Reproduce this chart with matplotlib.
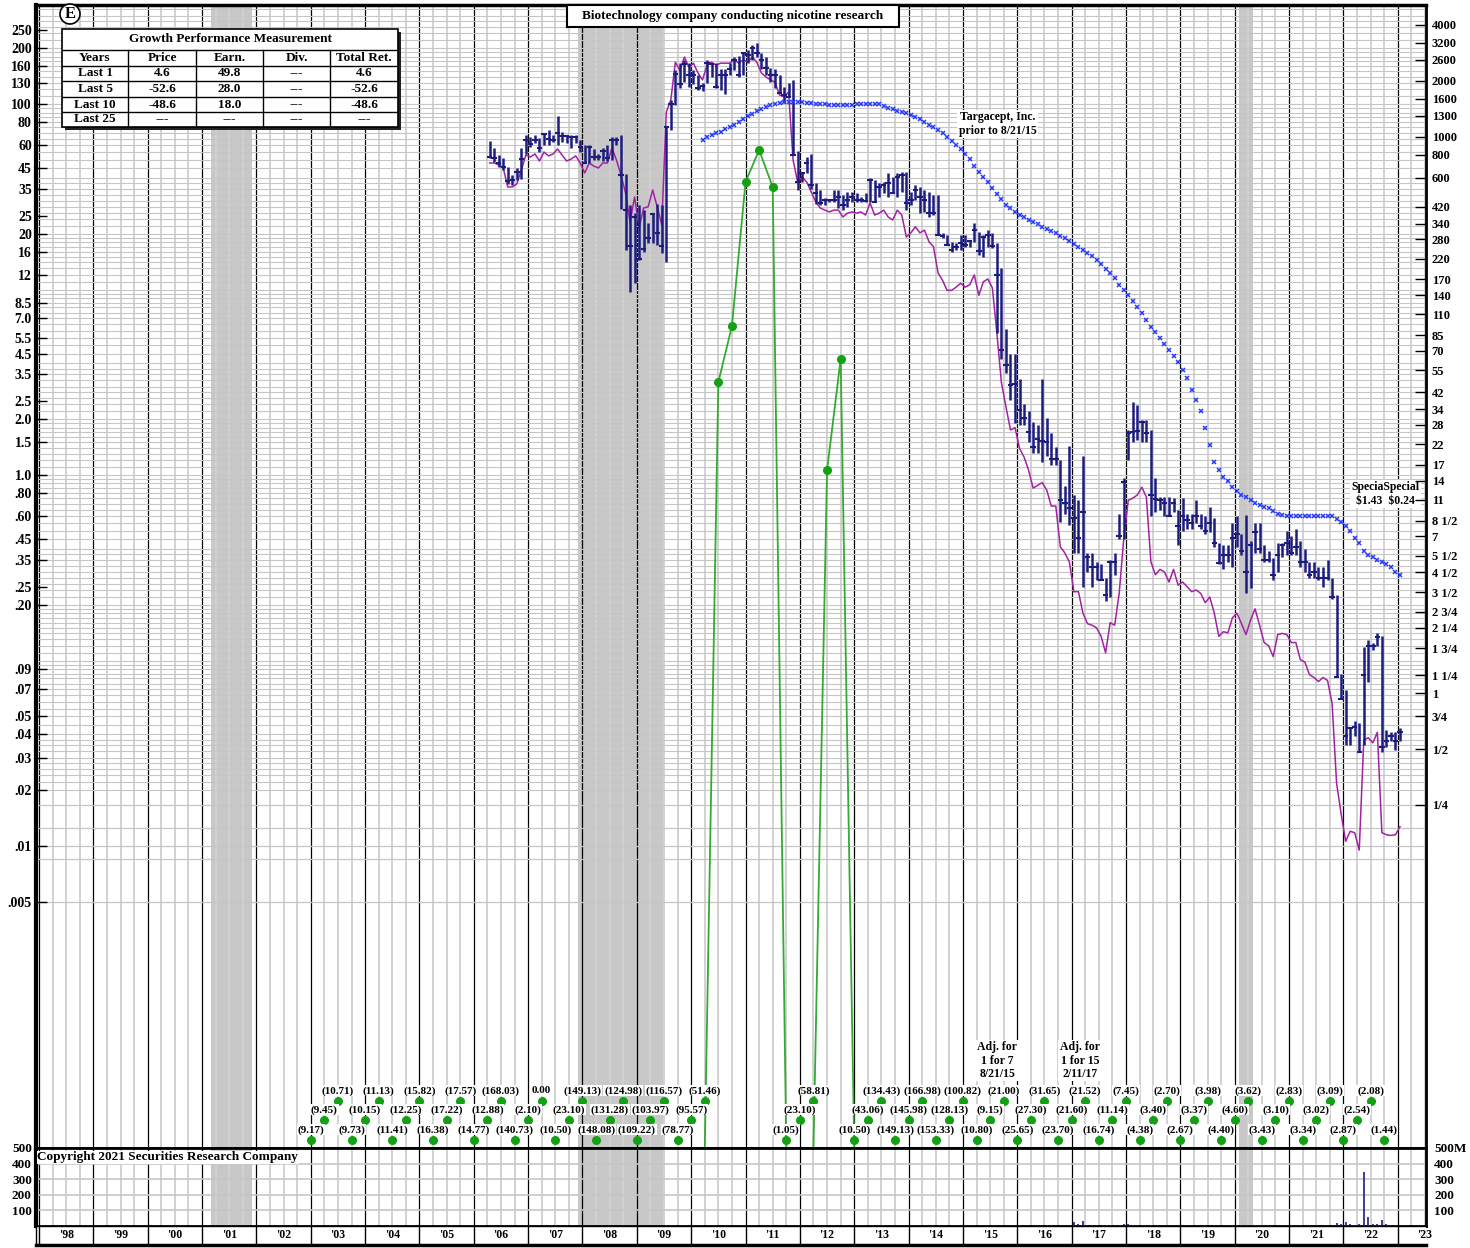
import numpy as np
import matplotlib
matplotlib.use("Agg")
import matplotlib.pyplot as plt
from matplotlib.patches import Rectangle
from matplotlib.ticker import NullLocator
from matplotlib.transforms import blended_transform_factory

plt.rcParams["font.family"] = ["Liberation Serif", "DejaVu Serif"]
plt.rcParams["font.weight"] = "bold"

# ---- monthly price bars, Apr 2006 .. Jan 2023 (read on the left-hand scale) ----
bar_start = 2006 + 3 / 12
price_high = [
    63, 58, 53, 51, 45.5, 41.5, 45, 58, 68,                                   # 2006
    66.5, 68, 65.5, 70, 72, 68, 86, 71, 68, 68, 68, 64,                        # 2007
    60, 60, 57, 54, 58, 60, 66, 66, 68, 42, 28.5, 26,                          # 2008
    28.5, 26.8, 22.8, 26, 29, 28.5, 75, 105, 152, 166, 173, 166,               # 2009
    152, 144, 130, 173, 167, 166, 155, 155, 167, 179, 182, 191,                # 2010
    195, 208, 213, 188, 179, 157, 155, 144, 123, 130, 135, 56,                 # 2011
    43, 52, 54, 37.5, 34.4, 31, 30.7, 34.4, 34.4, 32.3, 33.5, 33.5,            # 2012
    33, 31.4, 33, 40, 39, 37.5, 38, 42.5, 40.5, 42.5, 43, 43,                  # 2013
    33.5, 36.6, 35.5, 34.4, 33.5, 32.3, 32.3, 20.2, 19.7, 18, 17.8, 19.7,      # 2014
    19.7, 18.5, 22.8, 20.4, 19.7, 20.9, 20.2, 17.8, 13.1, 6.1, 4.5, 4.5,       # 2015
    3.3, 2.4, 2.2, 1.94, 1.87, 3.3, 2.03, 1.68, 1.42, 1.21, 0.87, 1.43,        # 2016
    0.78, 0.73, 1.27, 0.38, 0.38, 0.34, 0.33, 0.28, 0.35, 0.38, 0.62, 0.96,    # 2017
    1.75, 2.48, 2.39, 1.98, 1.98, 1.75, 0.96, 0.76, 0.76, 0.76, 0.75, 0.65,    # 2018
    0.75, 0.62, 0.62, 0.73, 0.62, 0.6, 0.67, 0.59, 0.43, 0.42, 0.42, 0.55,     # 2019
    0.6, 0.48, 0.61, 0.44, 0.55, 0.55, 0.42, 0.39, 0.355, 0.43, 0.43, 0.5,     # 2020
    0.47, 0.51, 0.44, 0.40, 0.34, 0.34, 0.32, 0.32, 0.35, 0.28, 0.225, 0.085,  # 2021
    0.069, 0.044, 0.047, 0.046, 0.118, 0.129, 0.125, 0.14, 0.136, 0.042, 0.041, 0.041,  # 2022
    0.043,                                                                     # 2023
]
price_low = [
    51, 48.5, 46, 44, 37, 36.5, 39, 39.5, 54,
    59, 61.5, 55, 60, 60, 62.5, 60, 62.5, 61.5, 58, 61.5, 55,
    48, 48, 50, 50, 49, 49.5, 50, 60, 27, 16.3, 9.7, 10.8,
    14.4, 15.9, 17.8, 17.8, 17.4, 15.7, 14, 72, 99, 122, 131, 124,
    128, 119, 117, 130, 140, 122, 119, 113, 144, 152, 140, 144,
    166, 173, 179, 155, 144, 131, 122, 115, 101, 109, 53, 34.5,
    38, 42.5, 35, 29, 28.5, 28.5, 29.5, 29.5, 27.5, 26.8, 28, 29.5,
    29.5, 29.8, 29.6, 29.5, 29.5, 31.4, 33, 31.4, 33, 31.4, 33.5, 26.8,
    28.5, 30.4, 25.8, 26.3, 24.6, 25.2, 19.7, 19, 17.4, 15.9, 16.3, 16.3,
    17, 17, 18, 15.3, 14.9, 17, 16.7, 5.8, 4.2, 3.55, 2.54, 1.9,
    1.87, 1.87, 1.5, 1.32, 1.32, 1.17, 1.26, 1.13, 1.13, 0.56, 0.62, 0.54,
    0.38, 0.38, 0.25, 0.30, 0.25, 0.27, 0.27, 0.21, 0.22, 0.29, 0.45, 0.45,
    1.21, 1.5, 1.54, 1.5, 1.5, 0.60, 0.63, 0.65, 0.6, 0.6, 0.63, 0.42,
    0.5, 0.51, 0.51, 0.55, 0.51, 0.48, 0.49, 0.41, 0.33, 0.31, 0.34, 0.32,
    0.41, 0.37, 0.23, 0.245, 0.38, 0.38, 0.34, 0.34, 0.27, 0.30, 0.36, 0.37,
    0.37, 0.37, 0.32, 0.30, 0.28, 0.28, 0.27, 0.25, 0.27, 0.215, 0.081, 0.062,
    0.035, 0.035, 0.039, 0.032, 0.035, 0.077, 0.114, 0.12, 0.032, 0.034, 0.037, 0.033,
    0.037,
]
price_close = [
    52, 51, 48, 46, 38.5, 39, 43, 50.5, 64,
    61, 64, 58, 69, 65, 64, 70, 67, 67, 66, 66, 59,
    48, 59, 51.5, 51.5, 55.5, 51, 64, 64, 41.5, 26.8, 17.2, 24.6,
    14.6, 16.5, 18.9, 25.5, 20.2, 17.2, 75, 100, 145, 128, 165, 144,
    144, 122, 125, 166, 165, 123, 144, 144, 155, 173, 144, 188,
    184, 200, 188, 173, 157, 144, 144, 115, 112, 109, 53, 38,
    42.5, 48, 36.6, 33, 29.2, 30.4, 30.4, 30.4, 31.4, 28.5, 30.4, 31.4,
    30.4, 30.4, 29.9, 39, 29.5, 35.5, 36.6, 37.5, 33, 40.5, 41.4, 29.2,
    30.4, 34.4, 31.4, 30.4, 26, 26, 19.7, 19.4, 17.4, 16.3, 17, 17.8,
    17.4, 18.2, 20.9, 16.1, 19.2, 19.7, 17.1, 12, 4.7, 3.9, 3.06, 3.1,
    2.24, 2.03, 1.7, 1.42, 1.56, 1.52, 1.5, 1.22, 1.22, 0.73, 0.71, 0.66,
    0.59, 0.46, 0.63, 0.36, 0.32, 0.32, 0.27, 0.225, 0.34, 0.34, 0.47, 0.92,
    1.68, 1.7, 1.72, 1.92, 1.68, 0.78, 0.74, 0.73, 0.71, 0.6, 0.71, 0.53,
    0.6, 0.57, 0.55, 0.6, 0.53, 0.5, 0.55, 0.43, 0.335, 0.37, 0.37, 0.46,
    0.48, 0.39, 0.30, 0.42, 0.49, 0.40, 0.35, 0.35, 0.29, 0.37, 0.42, 0.43,
    0.38, 0.41, 0.34, 0.34, 0.29, 0.30, 0.28, 0.28, 0.28, 0.22, 0.081, 0.062,
    0.039, 0.043, 0.044, 0.032, 0.084, 0.12, 0.12, 0.134, 0.034, 0.037, 0.039, 0.037,
    0.041,
]
rel_strength = [
    48.1, 48.1, 46.9, 45.2, 35.7, 35.7, 37.1, 44.1, 53.1,
    51.8, 53.8, 49.3, 55.1, 52.5, 53.8, 57.2, 53.1, 49.3, 50.5, 52.5, 48.1,
    42.5, 48.1, 46.3, 45.2, 48.1, 48.1, 58, 49.9, 41.4, 33.2, 23.1, 31.5,
    21.5, 27.5, 27.9, 34.4, 27.9, 22.3, 90.5, 105, 168, 152, 179, 158,
    166, 147, 135, 162, 168, 162, 166, 166, 166, 173, 166, 173,
    168, 179, 168, 147, 140, 135, 131, 112, 109, 116, 49.9, 38,
    40.4, 38, 33.6, 29.7, 27.5, 26.8, 26.2, 26.8, 26.8, 24.6, 25.8, 26.2,
    25.8, 26.2, 25.2, 29.3, 25.2, 25.8, 26.8, 24.6, 23.7, 26.8, 25.2, 19.2,
    20.2, 21.8, 20.2, 20.9, 18.1, 17.0, 12.3, 11.2, 9.9, 9.9, 10.3, 10.8,
    10.3, 10.6, 12.0, 9.3, 11.0, 11.4, 10.2, 5.8, 3.14, 2.33, 1.75, 1.8,
    1.39, 1.25, 1.06, 0.85, 0.88, 0.91, 0.83, 0.68, 0.68, 0.41, 0.38, 0.34,
    0.235, 0.235, 0.18, 0.158, 0.155, 0.15, 0.135, 0.11, 0.16, 0.155, 0.23, 0.45,
    0.73, 0.75, 0.78, 0.86, 0.76, 0.34, 0.29, 0.31, 0.30, 0.265, 0.31, 0.255,
    0.265, 0.25, 0.235, 0.24, 0.23, 0.205, 0.22, 0.18, 0.135, 0.143, 0.141, 0.17,
    0.18, 0.158, 0.138, 0.165, 0.19, 0.155, 0.125, 0.12, 0.105, 0.138, 0.14, 0.138,
    0.125, 0.125, 0.101, 0.098, 0.084, 0.081, 0.077, 0.081, 0.078, 0.059, 0.0218, 0.0149,
    0.0106, 0.012, 0.0118, 0.0095, 0.0373, 0.0383, 0.036, 0.041, 0.0118, 0.0115, 0.0114, 0.0115,
    0.0127,
]

# ---- blue x marks, monthly Mar 2010 .. Jan 2023 ----
xmark_start = 2010 + 2 / 12
xmarks = [
    64.0, 66.4, 68.1, 69.8, 70.7, 73.3, 75.2, 77.5, 80.0, 83.0,
    86.2, 88.8, 91.7, 94.5, 96.9, 98.8, 100, 101.3, 102.5, 102.5, 102.5, 102.5,
    101.9, 101.3, 101.3, 100.6, 100, 99.4, 98.8, 98.8, 98.8, 98.8, 98.8, 98.8,
    99.4, 100, 100, 100, 100, 100, 97.5, 95.1, 93.9, 91.7, 90.6, 89.4,
    87.3, 85.1, 83.0, 80.0, 77.1, 75.2, 72.4, 69.8, 66.4, 63.2, 60.1, 57.2,
    53.8, 50.5, 46.3, 43.0, 40.4, 38.0, 35.2, 32.7, 30.7, 28.5, 27.5, 26.2,
    25.2, 24.6, 23.7, 23.1, 22.6, 21.8, 21.2, 20.7, 20.2, 19.4, 18.9, 18.3,
    17.6, 17.0, 16.3, 15.7, 15.2, 14.4, 13.7, 12.9, 12.2, 11.5, 10.6, 9.93,
    9.33, 8.66, 8.03, 7.46, 6.85, 6.29, 5.90, 5.48, 5.09, 4.72, 4.38, 4.06,
    3.68, 3.34, 2.87, 2.54, 2.22, 1.80, 1.46, 1.18, 1.06, 0.98, 0.93, 0.86,
    0.82, 0.78, 0.76, 0.73, 0.71, 0.69, 0.67, 0.66, 0.64, 0.62, 0.61, 0.60,
    0.60, 0.60, 0.60, 0.60, 0.60, 0.60, 0.60, 0.60, 0.60, 0.60, 0.58, 0.56,
    0.53, 0.50, 0.46, 0.43, 0.39, 0.37, 0.36, 0.35, 0.34, 0.33, 0.32, 0.30,
    0.29,
]

# ---- quarterly earnings (12-mo), first point at the start of 2003 ----
eps_start = 2003.0
eps = [
    -9.17, -9.45, -10.71, -9.73, -10.15, -11.13, -11.41, -12.25, -15.82, -16.38,
    -17.22, -17.57, -14.77, -12.88, -168.03, -140.73, -2.10, 0.00, -10.50, -23.10,
    -149.13, -148.08, -131.28, -124.98, -109.22, -103.97, -116.57, -78.77, -95.57, -51.46,
    3.17, 6.36, 38.0, 56.5, 35.7, -1.05, -23.10, -58.81, 1.06, 4.22,
    -10.50, -43.06, -134.43, -149.13, -145.98, -166.98, -153.33, -128.13, -100.82, -10.80,
    -9.15, -21.00, -25.65, -27.30, -31.65, -23.70, -21.60, -21.52, -16.74, -11.14,
    -7.45, -4.38, -3.40, -2.70, -2.67, -3.37, -3.98, -4.40, -4.60, -3.62,
    -3.43, -3.10, -2.83, -3.34, -3.02, -3.09, -2.87, -2.54, -2.08, -1.44,
]

# ---- monthly volume (millions), Jan 2016 .. Jan 2023 ----
vol_start = 2016.0
volume = [
    4, 3, 3, 3, 3, 5, 3, 2, 2, 4, 3, 5,
    25, 12, 30, 6, 5, 4, 3, 4, 5, 4, 8, 15,
    10, 8, 6, 4, 3, 6, 3, 2, 2, 2, 2, 3,
    3, 2, 2, 2, 2, 2, 2, 3, 4, 3, 2, 4,
    5, 4, 8, 6, 5, 4, 3, 3, 2, 4, 3, 5,
    8, 6, 4, 3, 3, 3, 2, 3, 3, 4, 20, 15,
    25, 10, 8, 10, 346, 60, 15, 10, 40, 12, 8, 6,
    5,
]

recessions = [(2001.17, 2001.92), (2007.92, 2009.5), (2020.08, 2020.33)]
years = list(range(1998, 2024))

left_ticks = [250, 200, 160, 130, 100, 80, 60, 45, 35, 25, 20, 16, 12, 8.5, 7.0, 5.5, 4.5,
              3.5, 2.5, 2.0, 1.5, 1.0, .80, .60, .45, .35, .25, .20, .09, .07, .05, .04,
              .03, .02, .01, .005]
left_labels = ["250", "200", "160", "130", "100", "80", "60", "45", "35", "25", "20", "16",
               "12", "8.5", "7.0", "5.5", "4.5", "3.5", "2.5", "2.0", "1.5", "1.0", ".80",
               ".60", ".45", ".35", ".25", ".20", ".09", ".07", ".05", ".04", ".03", ".02",
               ".01", ".005"]
right_ticks = [4000, 3200, 2600, 2000, 1600, 1300, 1000, 800, 600, 420, 340, 280, 220, 170,
               140, 110, 85, 70, 55, 42, 34, 28, 22, 17, 14, 11, 8.5, 7, 5.5, 4.5, 3.5,
               2.75, 2.25, 1.75, 1.25, 1, 0.75, 0.5, 0.25]
right_labels = ["4000", "3200", "2600", "2000", "1600", "1300", "1000", "800", "600", "420",
                "340", "280", "220", "170", "140", "110", "85", "70", "55", "42", "34", "28",
                "22", "17", "14", "11", "8 1/2", "7", "5 1/2", "4 1/2", "3 1/2", "2 3/4",
                "2 1/4", "1 3/4", "1 1/4", "1", "3/4", "1/2", "1/4"]
vol_ticks = [100, 200, 300, 400, 500]

table_cols = ["Years", "Price", "Earn.", "Div.", "Total Ret."]
table_rows = [["Last 1", "4.6", "49.8", "---", "4.6"],
              ["Last 5", "-52.6", "28.0", "---", "-52.6"],
              ["Last 10", "-48.6", "18.0", "---", "-48.6"],
              ["Last 25", "---", "---", "---", "---"]]

RATIO = 15                       # right-hand price scale / left-hand earnings scale
X0, X1 = 1997.945, 2023.52
Y0, Y1 = 2.355e-4, 341.8
NAVY = "#1c1c80"
GRAY = "#c6c6c6"
W, H = 1470, 1248


def fx(px):
    return px / W


def fy(py):
    return 1 - py / H


fig = plt.figure(figsize=(W / 100, H / 100), dpi=100)
ax = fig.add_axes([fx(36), fy(1148), fx(1426) - fx(36), fy(5) - fy(1148)])
ax_vol = fig.add_axes([fx(36), fy(1226), fx(1426) - fx(36), fy(1148) - fy(1226)])
ax_yr = fig.add_axes([fx(36), fy(1245), fx(1426) - fx(36), fy(1226) - fy(1245)])

# ---- price panel ----
ax.set_yscale("log")
ax.set_xlim(X0, X1)
ax.set_ylim(Y0, Y1)

for a in (ax, ax_vol):
    for r0, r1 in recessions:
        a.axvspan(r0, r1, color="#c8c8c8", lw=0, zorder=0)
    for q in np.arange(1998, 2023.6, 0.25):
        if q % 1 == 0:
            a.axvline(q, color="black", lw=0.9, zorder=1)
        else:
            a.axvline(q, color="#d2d2d2", lw=1.4, zorder=0.5)

grid_mult = [1, 1.1, 1.2, 1.3, 1.4, 1.5, 1.6, 1.7, 1.8, 1.9, 2, 2.2, 2.4, 2.6, 2.8, 3, 3.25,
             3.5, 3.75, 4, 4.5, 5, 5.5, 6, 6.5, 7, 7.5, 8, 8.5, 9, 9.5]
for dec in [0.01, 0.1, 1, 10, 100]:
    for m in grid_mult:
        v = dec * m
        if 0.02 <= v <= Y1:
            ax.axhline(v, color=GRAY, lw=0.8, zorder=1.5)
for v in [0.0167, 0.0125, 0.01, 0.0085, 0.005]:
    ax.axhline(v, color=GRAY, lw=0.9, zorder=1.5)

mx = bar_start + (np.arange(len(price_high)) + 0.5) / 12
ax.vlines(mx, price_low, price_high, color=NAVY, lw=1.8, zorder=4)
ax.hlines(price_close, mx - 0.05, mx + 0.05, color=NAVY, lw=1.5, zorder=4)
ax.plot(mx, rel_strength, color="#a321a3", lw=1.1, zorder=3)

bx = xmark_start + (np.arange(len(xmarks)) + 0.5) / 12
ax.plot(bx, xmarks, ls="none", marker="x", color="#2438ff", ms=3.4, mew=1.1, zorder=4)

# earnings line: losses drop to the bottom edge
eps_arr = np.array(eps)
qx = eps_start + 0.25 * np.arange(len(eps))
pos = eps_arr > 0
near_pos = pos | np.roll(pos, 1) | np.roll(pos, -1)
eps_line = np.ma.masked_array(np.where(pos, eps_arr, Y0), mask=~near_pos)
ax.plot(qx, eps_line, color="#33aa33", lw=1.3, zorder=3)
ax.plot(qx[pos], eps_arr[pos], "o", color="#14a014", ms=5.5, zorder=3)

trans = blended_transform_factory(ax.transData, ax.transAxes)
dot_rows = [0.0070, 0.0245, 0.0411]
txt_rows = [0.0160, 0.0334, 0.0500]
k = 0
for x, v in zip(qx, eps_arr):
    if v > 0:
        continue
    r = k % 3
    lbl = "({:.2f})".format(abs(v)) if v < 0 else "{:.2f}".format(v)
    ax.plot(x, dot_rows[r], "o", color="#14a014", ms=5.5, transform=trans, zorder=5,
            clip_on=False)
    ax.text(x, txt_rows[r], lbl, transform=trans, ha="center", va="center", fontsize=8,
            zorder=6, bbox=dict(fc="white", ec="none", pad=0.6))
    k += 1

ax.set_yticks(left_ticks)
ax.set_yticklabels(left_labels)
ax.yaxis.set_minor_locator(NullLocator())
ax.tick_params(axis="y", direction="in", length=8, width=1, labelsize=10, pad=3)
ax.set_xticks([])
for s in ax.spines.values():
    s.set_linewidth(2)
ax.spines["left"].set_linewidth(3)
ax.spines["top"].set_linewidth(2.5)

ax_r = ax.twinx()
ax_r.set_yscale("log")
ax_r.set_ylim(Y0 * RATIO, Y1 * RATIO)
ax_r.set_yticks(right_ticks)
ax_r.set_yticklabels(right_labels)
ax_r.yaxis.set_minor_locator(NullLocator())
ax_r.tick_params(axis="y", direction="in", length=8, width=1, labelsize=9, pad=4)
for s in ax_r.spines.values():
    s.set_visible(False)

# annotations
bbox_w = dict(fc="white", ec="none", pad=1)
fig.patches.append(Rectangle((fx(567), fy(27)), fx(899) - fx(567), fy(5) - fy(27),
                             transform=fig.transFigure, fc="white", ec="black", lw=1.5,
                             zorder=6))
fig.text(fx(733), fy(16), "Biotechnology company conducting nicotine research",
         fontsize=9.5, ha="center", va="center", zorder=7)
fig.text(fx(70), fy(14), "E", fontsize=12, ha="center", va="center",
         bbox=dict(boxstyle="circle,pad=0.12", fc="white", ec="black", lw=1.2))
ax.text(2015.64, 0.896, "Targacept, Inc.\nprior to 8/21/15", transform=trans, fontsize=8.5,
        ha="center", va="center", linespacing=1.2, bbox=bbox_w, zorder=6)
ax.text(2022.77, 0.5722, "SpeciaSpecial\n\\$1.43  \\$0.24", transform=trans, fontsize=8.5,
        ha="center", va="center", linespacing=1.2, bbox=bbox_w, zorder=6)
ax.text(2015.63, 0.0765, "Adj. for\n1 for 7\n8/21/15", transform=trans, fontsize=8.5,
        ha="center", va="center", linespacing=1.15, bbox=bbox_w, zorder=6)
ax.text(2017.15, 0.0765, "Adj. for\n1 for 15\n2/11/17", transform=trans, fontsize=8.5,
        ha="center", va="center", linespacing=1.15, bbox=bbox_w, zorder=6)

# growth table
ax_tab = fig.add_axes([fx(62), fy(127), fx(398) - fx(62), fy(29) - fy(127)])
ax_tab.set_xlim(0, 336)
ax_tab.set_ylim(98, 0)
ax_tab.axis("off")
ax_tab.add_patch(Rectangle((3, 3), 336, 98, fc="#222222", ec="none", clip_on=False))
ax_tab.add_patch(Rectangle((0, 0), 336, 98, fc="white", ec="black", lw=1.2, clip_on=False))
col_edges = [0, 66, 134, 201, 268, 336]
row_edges = [0, 21, 37, 52, 68, 83, 98]
for yv in row_edges[1:-1]:
    ax_tab.plot([0, 336], [yv, yv], color="black", lw=1)
for xv in col_edges[1:-1]:
    ax_tab.plot([xv, xv], [21, 98], color="black", lw=1)
ax_tab.text(168, 10.5, "Growth Performance Measurement", ha="center", va="center", fontsize=9.5)
rows_all = [table_cols] + table_rows
for i, row in enumerate(rows_all):
    yc = (row_edges[i + 1] + row_edges[i + 2]) / 2
    for j, cell in enumerate(row):
        xc = (col_edges[j] + col_edges[j + 1]) / 2
        ax_tab.text(xc, yc, cell, ha="center", va="center", fontsize=9.5)

# ---- volume panel ----
ax_vol.set_xlim(X0, X1)
ax_vol.set_ylim(0, 500)
for v in vol_ticks[:-1]:
    ax_vol.axhline(v, color=GRAY, lw=1.2, zorder=1.5)
vx = vol_start + (np.arange(len(volume)) + 0.5) / 12
ax_vol.vlines(vx, 0, volume, color=NAVY, lw=1.2, zorder=3)
ax_vol.set_xticks([])
ax_vol.set_yticks(vol_ticks)
ax_vol.set_yticklabels([str(v) for v in vol_ticks])
ax_vol.tick_params(axis="y", direction="in", length=0, labelsize=9.5, pad=3)
ax_vol_r = ax_vol.twinx()
ax_vol_r.set_ylim(0, 500)
ax_vol_r.set_yticks(vol_ticks)
ax_vol_r.set_yticklabels(["100", "200", "300", "400", "500M"])
ax_vol_r.tick_params(axis="y", direction="in", length=0, labelsize=9.5, pad=6)
for s in ax_vol_r.spines.values():
    s.set_visible(False)
for s in ax_vol.spines.values():
    s.set_linewidth(2)
ax_vol.spines["left"].set_linewidth(3)
ax_vol.text(0.001, 0.88, "Copyright 2021 Securities Research Company", transform=ax_vol.transAxes,
            fontsize=9.5, ha="left", va="center", bbox=dict(fc="white", ec="none", pad=0.5),
            zorder=6)

# ---- year strip ----
ax_yr.set_xlim(X0, X1)
ax_yr.set_ylim(0, 1)
for y in years:
    ax_yr.axvline(y, color="black", lw=1)
    ax_yr.text(y + 0.5, 0.5, "'{:02d}".format(y % 100), ha="center", va="center",
               fontsize=8.5, clip_on=False)
ax_yr.set_xticks([])
ax_yr.set_yticks([])
for s in ax_yr.spines.values():
    s.set_linewidth(1)
ax_yr.spines["bottom"].set_linewidth(2.5)
ax_yr.spines["right"].set_visible(False)

fig.savefig("out.png", dpi=100)
